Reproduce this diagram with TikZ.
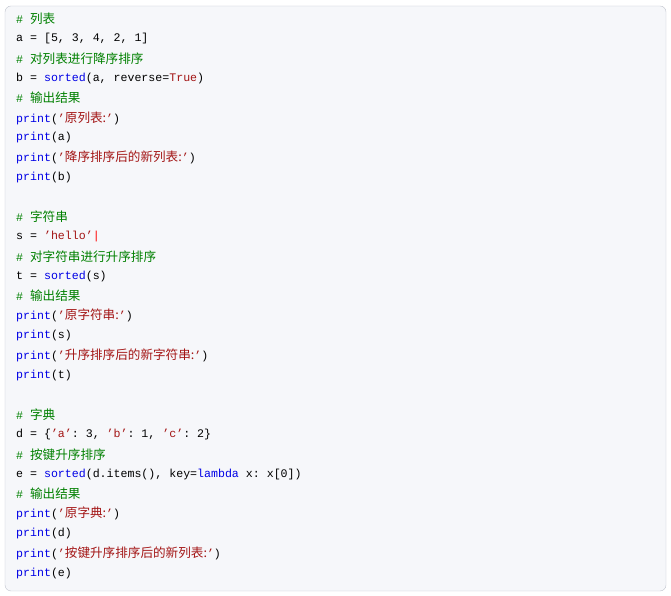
\documentclass[tikz,border=0pt]{standalone}
\usepackage{fontspec}
\setmonofont{Liberation Mono}
\newfontfamily\cjk{Noto Sans CJK SC}
\definecolor{cmt}{RGB}{0,128,0}
\definecolor{kwc}{RGB}{0,0,230}
\definecolor{strc}{RGB}{163,21,21}
\definecolor{bgc}{RGB}{246,247,250}
\definecolor{brd}{RGB}{190,194,204}
\newcommand{\zh}[1]{{\cjk\fontsize{12.6}{13}\selectfont #1}}
\newcommand{\cm}[1]{\textcolor{cmt}{\# \zh{#1}}}
\newcommand{\kw}[1]{\textcolor{kwc}{#1}}
\newcommand{\st}[1]{\textcolor{strc}{#1}}
\begin{document}
\begin{tikzpicture}[x=1pt,y=1pt,
  codeline/.style={anchor=west,inner sep=0pt,font=\ttfamily\fontsize{11.6}{13}\selectfont}]
\useasboundingbox (0,0) rectangle (671,596);
\draw[brd,fill=bgc,rounded corners=6pt] (5,5) rectangle (666,590);
\foreach \i/\t in {
0/{\cm{列表}},
1/{a = [5, 3, 4, 2, 1]},
2/{\cm{对列表进行降序排序}},
3/{b = \kw{sorted}(a, reverse=\st{True})},
4/{\cm{输出结果}},
5/{\kw{print}(\st{’\zh{原列表:}’})},
6/{\kw{print}(a)},
7/{\kw{print}(\st{’\zh{降序排序后的新列表:}’})},
8/{\kw{print}(b)},
10/{\cm{字符串}},
11/{s = \st{’hello’}\textcolor{red}{|}},
12/{\cm{对字符串进行升序排序}},
13/{t = \kw{sorted}(s)},
14/{\cm{输出结果}},
15/{\kw{print}(\st{’\zh{原字符串:}’})},
16/{\kw{print}(s)},
17/{\kw{print}(\st{’\zh{升序排序后的新字符串:}’})},
18/{\kw{print}(t)},
20/{\cm{字典}},
21/{d = \{\st{’a’}: 3, \st{’b’}: 1, \st{’c’}: 2\}},
22/{\cm{按键升序排序}},
23/{e = \kw{sorted}(d.items(), key=\kw{lambda} x: x[0])},
24/{\cm{输出结果}},
25/{\kw{print}(\st{’\zh{原字典:}’})},
26/{\kw{print}(d)},
27/{\kw{print}(\st{’\zh{按键升序排序后的新列表:}’})},
28/{\kw{print}(e)}}
  \node[codeline] (l\i) at (16,{596-19-19.79*\i}) {\t};
\end{tikzpicture}
\end{document}
